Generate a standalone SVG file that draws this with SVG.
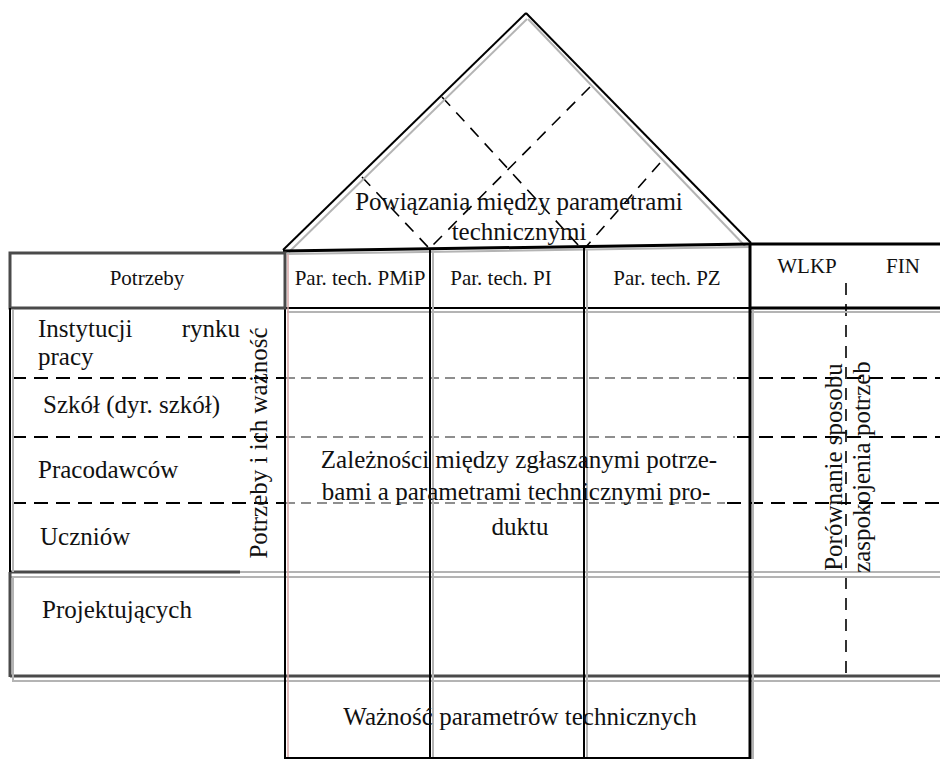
<svg xmlns="http://www.w3.org/2000/svg" width="940" height="759" viewBox="0 0 940 759">
<style>
  text { font-family: "Liberation Serif", "Times New Roman", serif; fill: #111; }
  .h { font-size: 21px; }
  .b { font-size: 25px; }
  .m { text-anchor: middle; }
  .k { stroke: #000; stroke-width: 2; fill: none; }
  .kt { stroke: #000; stroke-width: 3; fill: none; }
  .g { stroke: #b4b4b4; stroke-width: 2; fill: none; }
  .dg { stroke: #4a4a4a; stroke-width: 3; fill: none; }
  .rd { stroke: #d8a8a8; stroke-width: 1.5; fill: none; }
  .dk { stroke: #000; stroke-width: 2; stroke-dasharray: 14 8; fill: none; }
  .dr { stroke: #000; stroke-width: 1.6; stroke-dasharray: 12 9; fill: none; }
  .dm { stroke: #6a6a6a; stroke-width: 1.5; stroke-dasharray: 10 6; fill: none; }
</style>
<rect width="940" height="759" fill="#fff"/>

<g id="connectors">
  <!-- roof dashed correlation lines -->
  <line class="dr" x1="442" y1="97" x2="580" y2="247"/>
  <line class="dr" x1="362" y1="177" x2="428" y2="247"/>
  <line class="dr" x1="590" y1="87" x2="430" y2="248"/>
  <line class="dr" x1="660" y1="163" x2="585" y2="248"/>
  <!-- dashed row separators -->
  <line class="dk" x1="12" y1="378" x2="285" y2="378"/>
  <line class="dm" x1="285" y1="378" x2="735" y2="378"/>
  <line class="dk" x1="737" y1="378" x2="940" y2="378"/>
  <line class="dk" x1="12" y1="437" x2="285" y2="437"/>
  <line class="dm" x1="285" y1="437" x2="735" y2="437"/>
  <line class="dk" x1="737" y1="437" x2="940" y2="437"/>
  <line class="dk" x1="12" y1="503" x2="285" y2="503"/>
  <line class="dm" x1="285" y1="503" x2="725" y2="503"/>
  <line class="dk" x1="727" y1="503" x2="940" y2="503"/>
  <!-- WLKP / FIN separator -->
  <line class="dr" x1="846" y1="283" x2="846" y2="677"/>
</g>

<g id="roof">
  <line class="g" x1="289" y1="252" x2="527" y2="19"/>
  <line class="k" x1="283" y1="250" x2="526" y2="13"/>
  <line class="k" x1="526" y1="13" x2="751" y2="243"/>
  <line class="g" x1="528" y1="19" x2="745" y2="246"/>
  <polyline class="g" points="287,254 750,247"/>
  <polyline class="kt" points="283,251 750,244"/>
  <text class="b m" x="519" y="210">Powiązania między parametrami</text>
  <text class="b m" x="519" y="240">technicznymi</text>
</g>

<g id="grid">
  <!-- header row bottom + shadow -->
  <line class="k" x1="285" y1="308" x2="750" y2="308"/>
  <line class="g" x1="287" y1="312" x2="940" y2="312"/>
  <!-- Projektujących separators -->
  <line class="dg" x1="10" y1="572" x2="240" y2="572"/>
  <line class="g" x1="240" y1="572" x2="940" y2="572"/>
  <line class="g" x1="10" y1="577" x2="940" y2="577"/>
  <line class="dg" x1="950" y1="572" x2="950" y2="572"/>
  <line class="dg" x1="10" y1="676" x2="940" y2="676"/>
  <line class="g" x1="12" y1="681" x2="940" y2="681"/>
  <!-- column dividers -->
  <line class="k" x1="285" y1="251" x2="285" y2="759"/>
  <line class="rd" x1="288" y1="254" x2="288" y2="759"/>
  <line class="k" x1="430" y1="248" x2="430" y2="759"/>
  <line class="g" x1="433" y1="250" x2="433" y2="759"/>
  <line class="k" x1="584" y1="247" x2="584" y2="759"/>
  <line class="g" x1="587" y1="249" x2="587" y2="759"/>
  <line class="kt" x1="750" y1="243" x2="750" y2="759"/>
  <line class="g" x1="753" y1="310" x2="753" y2="759"/>
  <!-- bottom box bottom -->
  <line class="k" x1="285" y1="758" x2="750" y2="758"/>
</g>

<g id="needs-header">
  <rect class="dg" x="10" y="253" width="275" height="55"/>
  <text class="h m" x="147" y="285">Potrzeby</text>
</g>

<g id="needs-body">
  <line class="k" x1="10" y1="308" x2="10" y2="572"/>
  <line class="g" x1="13" y1="310" x2="13" y2="572"/>
  <text class="b" x="38" y="337">Instytucji</text>
  <text class="b" x="240" y="337" text-anchor="end">rynku</text>
  <text class="b" x="38" y="365">pracy</text>
  <text class="b" x="43" y="413">Szkół (dyr. szkół)</text>
  <text class="b" x="38" y="478">Pracodawców</text>
  <text class="b" x="40" y="545">Uczniów</text>
  <text class="b m" transform="translate(267,443) rotate(-90)">Potrzeby i ich ważność</text>
</g>

<g id="designers">
  <line class="dg" x1="10" y1="572" x2="10" y2="677"/>
  <line class="g" x1="13" y1="577" x2="13" y2="681"/>
  <text class="b" x="42" y="618">Projektujących</text>
</g>

<g id="par-pmip">
  <text class="h m" x="360" y="285">Par. tech. PMiP</text>
</g>
<g id="par-pi">
  <text class="h m" x="501" y="285">Par. tech. PI</text>
</g>
<g id="par-pz">
  <text class="h m" x="667" y="285">Par. tech. PZ</text>
</g>

<g id="relationships">
  <text class="b m" x="519" y="468">Zależności między zgłaszanymi potrze-</text>
  <text class="b m" x="516" y="500">bami a parametrami technicznymi pro-</text>
  <text class="b m" x="520" y="535">duktu</text>
</g>

<g id="comparison">
  <line class="kt" x1="750" y1="244" x2="940" y2="244"/>
  <line class="kt" x1="750" y1="308" x2="940" y2="308"/>
  <text class="h m" x="807" y="273">WLKP</text>
  <text class="h m" x="903" y="273">FIN</text>
  <text class="b m" transform="translate(842,467) rotate(-90)">Porównanie sposobu</text>
  <text class="b m" transform="translate(870,467) rotate(-90)">zaspokojenia potrzeb</text>
</g>

<g id="importance">
  <text class="b m" x="520" y="725">Ważność parametrów technicznych</text>
</g>
</svg>
